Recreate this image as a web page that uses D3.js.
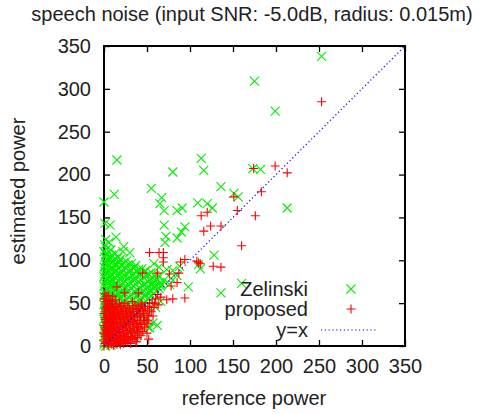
<!DOCTYPE html>
<html>
<head>
<meta charset="utf-8">
<script src="https://cdn.jsdelivr.net/npm/d3@7"></script>
<style>
  body { margin: 0; background: #fff; }
  text { font-family: "Liberation Sans", Arial, sans-serif; fill: #222; }
</style>
</head>
<body>
<div id="chart"></div>
<script>
// values (reference power, estimated power)
const ticks = [0, 50, 100, 150, 200, 250, 300, 350];

const zelinski = [
  // outliers
  [253,338],[175,309],[199,274],[173,207],[182,206],[15,217],[113,219],[116,205],[80,203],
  [55,184],[12,177],[136,186],[151,178],[156,174],[67,173],[0,168],[65,166],[70,158],
  [85,158],[91,161],[109,167],[120,166],[126,161],[213,161],[1,143],[7,141],[70,141],
  [94,139],[90,133],[72,128],[71,121],[85,126],[14,127],[2,124],[23,116],[128,106],
  [112,90],[136,62],[160,73],[110,95],[98,69],[73,89],[85,82],[53,65],[6,121],[22,110],
  [30,109],[58,96],[64,92],[88,93],[78,79],[67,72],
  // dense cluster
  [0,2],[1,6],[0,11],[2,15],[0,20],[1,26],[0,31],[2,37],[1,42],[0,48],[2,53],[0,58],
  [1,64],[0,70],[2,75],[0,81],[1,87],[0,92],[2,98],[1,104],[0,110],[1,118],
  [5,4],[4,9],[6,17],[4,23],[5,29],[6,34],[4,45],[5,51],[6,60],[4,67],[5,73],[6,79],
  [4,85],[5,95],[6,101],[4,108],
  [10,12],[9,19],[11,27],[10,33],[9,40],[11,47],[10,55],[9,62],[11,69],[10,77],[9,84],
  [11,90],[10,99],[9,106],
  [15,18],[14,25],[16,36],[15,44],[14,52],[16,58],[15,66],[14,74],[16,81],[15,88],
  [14,96],[16,103],
  [20,24],[19,31],[21,39],[20,49],[19,57],[21,63],[20,71],[19,79],[21,86],[20,94],[19,101],
  [25,30],[26,38],[24,46],[27,54],[25,61],[26,68],[24,76],[27,83],[25,92],[26,99],
  [31,36],[30,44],[33,53],[32,60],[31,67],[30,74],[33,82],[31,89],[32,96],
  [37,42],[36,50],[38,58],[39,65],[37,72],[36,79],[38,87],[37,94],
  [43,47],[42,55],[44,62],[45,70],[43,77],[42,84],[44,90],
  [49,52],[48,60],[50,68],[51,75],[49,82],[48,88],
  [55,58],[54,65],[56,72],[57,79],[55,86],
  [61,64],[60,70],[62,78],[66,70],[69,76],
  [53,21],[57,27],[51,22],[40,30],[45,35],[35,20],[30,15],[25,12],[20,8],[48,40],[60,45],
  [62,24],[66,52],[14,3],[8,1],[27,20],[38,12],
  [2,0],[3,4],[2,8],[3,13],[1,18],[3,23],[2,28],[3,34],[1,40],[3,45],[2,51],[3,56],[1,61],
  [3,67],[2,72],[3,78],[1,84],[3,90],[2,95],[3,101],[2,107],[3,113],
  [7,14],[8,21],[7,26],[8,32],[7,38],[8,43],[7,48],[8,56],[7,63],[8,70],[7,76],[8,82],
  [7,90],[8,97],[7,104],[8,112],
  [12,16],[13,22],[12,30],[13,37],[12,43],[13,50],[12,58],[13,64],[12,72],[13,80],[12,87],
  [13,94],[12,101],[13,108],
  [17,22],[18,28],[17,33],[18,41],[17,47],[18,55],[17,61],[18,69],[17,76],[18,84],[17,91],[18,98],
  [22,28],[23,35],[22,43],[23,52],[22,60],[23,67],[22,74],[23,82],[22,89],[23,97],
  [28,33],[29,41],[28,50],[29,57],[28,64],[29,71],[28,79],[29,87],[28,95],
  [34,39],[35,47],[34,55],[35,63],[34,70],[35,77],[34,84],[35,91],
  [40,45],[41,52],[40,60],[41,68],[40,75],[41,82],[40,89],
  [46,50],[47,58],[46,65],[47,72],[46,80],[47,86],
  [52,56],[53,62],[52,70],[53,77],[52,84],
  [58,61],[59,68],[58,75],[59,82],
  [64,67],[65,74],[64,82],[76,72],[80,88]
];

const proposed = [
  // outliers
  [253,285],[174,207],[199,210],[213,202],[183,180],[151,174],[113,152],[120,156],[155,158],
  [176,152],[124,140],[136,140],[116,134],[160,117],[110,97],[108,99],[112,96],[127,93],
  [136,92],[53,109],[64,109],[69,109],[69,103],[69,98],[89,98],[94,101],[62,85],[76,84],
  [87,85],[45,85],[78,70],[85,74],[94,56],[73,54],[80,55],[15,69],[24,62],[40,62],[13,54],
  [50,15],[52,8],[38,5],[28,7],[50,36],[51,30],[53,42],
  // dense cluster
  [0,0],[1,3],[0,7],[2,11],[0,15],[1,19],[0,24],[2,28],[1,33],[0,38],[2,43],[1,49],[0,55],[1,61],
  [5,1],[4,5],[6,9],[5,13],[4,18],[6,22],[5,27],[4,31],[6,36],[5,41],[4,47],[6,53],[5,59],
  [9,2],[8,6],[10,10],[9,14],[8,20],[10,25],[9,30],[8,35],[10,40],[9,46],[8,52],[10,58],
  [13,3],[12,8],[14,12],[13,17],[12,23],[14,28],[13,33],[12,39],[14,45],
  [17,4],[16,9],[18,14],[17,19],[16,25],[18,31],[17,37],[16,43],[18,50],
  [21,5],[20,11],[22,16],[21,22],[20,28],[22,34],[21,40],[20,47],
  [25,6],[24,12],[26,18],[25,24],[24,30],[26,36],[25,42],[24,50],
  [29,7],[28,14],[30,20],[29,27],[28,33],[30,39],[29,45],
  [33,9],[32,16],[34,23],[33,29],[32,36],[34,43],[33,52],
  [37,5],[36,12],[38,19],[37,26],[36,33],[38,40],[37,47],
  [41,14],[40,22],[42,30],[41,38],[40,44],
  [45,17],[44,25],[46,33],[45,41],[44,50],
  [49,28],[48,44],[53,50],[57,35],[58,45],[60,55],[63,48],[66,57],
  [2,5],[3,9],[2,13],[3,17],[1,21],[3,26],[2,31],[3,35],[1,40],[3,45],[2,52],[3,58],
  [7,3],[7,8],[7,12],[6,16],[7,20],[7,24],[6,29],[7,33],[7,38],[6,44],[7,50],
  [11,1],[11,5],[11,9],[11,13],[10,18],[11,22],[11,27],[10,32],[11,37],[11,43],[10,49],
  [15,2],[15,6],[15,10],[14,15],[15,21],[15,26],[14,31],[15,36],[15,42],[14,48],
  [19,2],[19,7],[19,12],[18,17],[19,23],[19,28],[18,34],[19,40],[19,46],
  [23,3],[23,8],[23,14],[22,20],[23,26],[23,32],[22,38],[23,44],
  [27,4],[27,10],[27,16],[26,22],[27,28],[27,34],[26,40],[27,47],
  [31,3],[31,11],[31,18],[30,25],[31,31],[31,37],[30,42],
  [35,8],[35,15],[34,21],[35,28],[35,34],[34,40],[35,47],
  [39,10],[39,17],[38,23],[39,30],[39,36],[38,43],
  [43,12],[43,20],[42,27],[43,35],[42,42],[43,48],
  [47,22],[47,30],[46,38],[47,46],
  [51,26],[52,35],[51,46],[55,40],[56,50],[59,50],[62,60]
];

const diag = [[0, 0], [350, 350]];

const svg = d3.select('#chart').append('svg')
  .attr('width', 491)
  .attr('height', 414);

const x = d3.scaleLinear().domain([0, 350]).range([104, 405]);
const y = d3.scaleLinear().domain([0, 350]).range([346, 46]);

const fs = '20px';

// title
svg.append('text')
  .attr('x', 252).attr('y', 21)
  .attr('text-anchor', 'middle')
  .style('font-size', fs)
  .text('speech noise (input SNR: -5.0dB, radius: 0.015m)');

// axes with inward ticks, mirrored on top and right
const fmt = d3.format('d');
svg.append('g')
  .attr('transform', `translate(0,${y(0)})`)
  .call(d3.axisBottom(x).tickValues(ticks).tickSizeInner(-6).tickSizeOuter(0).tickPadding(13).tickFormat(fmt));
svg.append('g')
  .attr('transform', `translate(${x(0)},0)`)
  .call(d3.axisLeft(y).tickValues(ticks).tickSizeInner(-6).tickSizeOuter(0).tickPadding(13).tickFormat(fmt));
svg.append('g')
  .attr('transform', `translate(0,${y(350)})`)
  .call(d3.axisTop(x).tickValues(ticks).tickSizeInner(-6).tickSizeOuter(0).tickFormat(''));
svg.append('g')
  .attr('transform', `translate(${x(350)},0)`)
  .call(d3.axisRight(y).tickValues(ticks).tickSizeInner(-6).tickSizeOuter(0).tickFormat(''));

svg.selectAll('.domain').remove();
svg.selectAll('.tick line').attr('stroke', '#000').attr('stroke-width', 1.3);
svg.selectAll('.tick text')
  .style('font-size', fs)
  .style('font-family', '"Liberation Sans", Arial, sans-serif')
  .attr('fill', '#222');

svg.append('rect')
  .attr('x', x(0)).attr('y', y(350))
  .attr('width', x(350) - x(0)).attr('height', y(0) - y(350))
  .attr('fill', 'none').attr('stroke', '#000').attr('stroke-width', 2);

// axis titles
svg.append('text')
  .attr('x', 254).attr('y', 405)
  .attr('text-anchor', 'middle')
  .style('font-size', fs)
  .text('reference power');
svg.append('text')
  .attr('transform', 'translate(25,191) rotate(-90)')
  .attr('text-anchor', 'middle')
  .style('font-size', fs)
  .text('estimated power');

const s = 4.5;
const crossPath = d => `M${d[0]-s},${d[1]-s}L${d[0]+s},${d[1]+s}M${d[0]-s},${d[1]+s}L${d[0]+s},${d[1]-s}`;
const plusPath = d => `M${d[0]-s},${d[1]}L${d[0]+s},${d[1]}M${d[0]},${d[1]-s}L${d[0]},${d[1]+s}`;

svg.append('g').selectAll('path')
  .data(zelinski)
  .enter().append('path')
  .attr('d', d => crossPath([x(d[0]), y(d[1])]))
  .attr('stroke', '#00f000').attr('stroke-width', 1.1).attr('fill', 'none');

svg.append('g').selectAll('path')
  .data(proposed)
  .enter().append('path')
  .attr('d', d => plusPath([x(d[0]), y(d[1])]))
  .attr('stroke', '#ff0000').attr('stroke-width', 1.1).attr('fill', 'none');

svg.append('path')
  .datum(diag)
  .attr('d', d3.line().x(d => x(d[0])).y(d => y(d[1])))
  .attr('stroke', '#0000ff').attr('stroke-width', 1.2)
  .attr('stroke-dasharray', '1.2,2.6').attr('fill', 'none');

// legend
const legend = svg.append('g');
const rows = [
  { label: 'Zelinski', y: 289, kind: 'x' },
  { label: 'proposed', y: 309, kind: '+' },
  { label: 'y=x', y: 330, kind: 'line' }
];
rows.forEach(r => {
  legend.append('text')
    .attr('x', 308).attr('y', r.y)
    .attr('dy', '0.35em')
    .attr('text-anchor', 'end')
    .style('font-size', fs)
    .text(r.label);
  if (r.kind === 'x') {
    legend.append('path').attr('d', crossPath([351, r.y]))
      .attr('stroke', '#00f000').attr('stroke-width', 1.1).attr('fill', 'none');
  } else if (r.kind === '+') {
    legend.append('path').attr('d', plusPath([351, r.y]))
      .attr('stroke', '#ff0000').attr('stroke-width', 1.1).attr('fill', 'none');
  } else {
    legend.append('line')
      .attr('x1', 321).attr('x2', 378).attr('y1', r.y).attr('y2', r.y)
      .attr('stroke', '#0000ff').attr('stroke-width', 1.2)
      .attr('stroke-dasharray', '1.2,2.6');
  }
});
</script>
</body>
</html>
